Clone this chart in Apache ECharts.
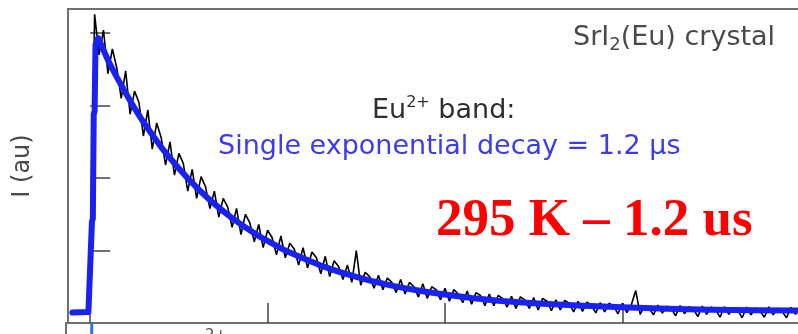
<!DOCTYPE html>
<html>
<head>
<meta charset="utf-8">
<script src="https://cdn.jsdelivr.net/npm/echarts@6/dist/echarts.min.js"></script>
<style>
  html, body { margin: 0; padding: 0; background: #ffffff; }
  #chart { width: 798px; height: 334px; }
</style>
</head>
<body>
<div id="chart"></div>
<script>
// Time axis in microseconds, intensity in arbitrary units
const timeTicks = [0, 2, 4, 6, 8];
const intensityTicks = [0.25, 0.5, 0.75, 1.0];

// Measured decay trace (sampled every 0.05 us starting at t = 0)
const traceStart = 0.0;
const traceStep = 0.05;
const traceIntensity = [
  0.040, 1.065, 0.925, 1.010, 0.860, 0.945, 0.880, 0.775, 0.870, 0.720,
  0.800, 0.760, 0.645, 0.735, 0.600, 0.690, 0.640, 0.545, 0.625, 0.510,
  0.585, 0.550, 0.455, 0.530, 0.430, 0.505, 0.470, 0.395, 0.455, 0.365,
  0.430, 0.400, 0.330, 0.395, 0.305, 0.375, 0.345, 0.280, 0.340, 0.260,
  0.320, 0.295, 0.235, 0.300, 0.225, 0.275, 0.255, 0.200, 0.260, 0.190,
  0.245, 0.225, 0.170, 0.230, 0.160, 0.215, 0.195, 0.150, 0.200, 0.140,
  0.250, 0.130, 0.175, 0.160, 0.120, 0.165, 0.115, 0.155, 0.140, 0.105,
  0.150, 0.100, 0.140, 0.125, 0.090, 0.135, 0.085, 0.125, 0.115, 0.080,
  0.120, 0.075, 0.115, 0.100, 0.070, 0.110, 0.065, 0.105, 0.095, 0.060,
  0.100, 0.060, 0.095, 0.085, 0.055, 0.092, 0.050, 0.090, 0.080, 0.050,
  0.088, 0.045, 0.085, 0.075, 0.042, 0.080, 0.045, 0.078, 0.068, 0.038,
  0.075, 0.040, 0.072, 0.062, 0.035, 0.070, 0.038, 0.068, 0.058, 0.032,
  0.068, 0.036, 0.062, 0.112, 0.030, 0.060, 0.052, 0.028, 0.062, 0.034,
  0.058, 0.050, 0.025, 0.060, 0.032, 0.056, 0.048, 0.022, 0.058, 0.030,
  0.055, 0.046, 0.020, 0.056, 0.030, 0.052, 0.044, 0.018, 0.055, 0.028,
  0.052, 0.042, 0.020, 0.056, 0.028, 0.050, 0.040, 0.018, 0.054, 0.030,
  0.050, 0.038, 0.020, 0.052, 0.030, 0.046
];

// Single exponential fit (tau = 1.2 us)
const fitTime = [
  -0.20, -0.02, 0.00, 0.02, 0.03, 0.04, 0.05, 0.06, 0.09, 0.2,
  0.3, 0.4, 0.5, 0.6, 0.7, 0.8, 0.9, 1.0, 1.1, 1.2,
  1.3, 1.4, 1.5, 1.6, 1.7, 1.8, 1.9, 2.0, 2.2, 2.4,
  2.6, 2.8, 3.0, 3.2, 3.4, 3.6, 3.8, 4.0, 4.3, 4.6,
  5.0, 5.5, 6.0, 6.5, 7.0, 7.5, 8.0, 8.25
];
const fitIntensity = [
  0.036, 0.038, 0.040, 0.35, 0.36, 0.72, 0.73, 0.96, 0.983, 0.907,
  0.848, 0.793, 0.741, 0.693, 0.649, 0.607, 0.569, 0.533, 0.499, 0.468,
  0.438, 0.411, 0.386, 0.362, 0.340, 0.320, 0.300, 0.283, 0.250, 0.223,
  0.198, 0.177, 0.159, 0.143, 0.129, 0.117, 0.107, 0.098, 0.086, 0.077,
  0.068, 0.060, 0.054, 0.049, 0.046, 0.044, 0.043, 0.042
];

// Rising edge of the panel below (only its top is in view)
const lowerEdgeTime = [0.04, 0.04];
const lowerEdgeIntensity = [0.55, 1.0];

const tracePoints = traceIntensity.map((v, i) => [traceStart + i * traceStep, v]);
const fitPoints = fitTime.map((t, i) => [t, fitIntensity[i]]);
const lowerPoints = lowerEdgeTime.map((t, i) => [t, lowerEdgeIntensity[i]]);

const frameColor = '#707070';
const tickStyle = { color: '#444444', width: 1.5 };

const chart = echarts.init(document.getElementById('chart'), null, { renderer: 'canvas' });

chart.setOption({
  animation: false,
  backgroundColor: '#ffffff',
  grid: [
    { left: 68, top: 9, width: 754, height: 314, show: true, outerBoundsMode: 'none',
      borderColor: frameColor, borderWidth: 2, backgroundColor: 'transparent' },
    { left: 66, top: 323, width: 754, height: 300, show: true, outerBoundsMode: 'none',
      borderColor: frameColor, borderWidth: 2, backgroundColor: 'transparent' }
  ],
  xAxis: [
    { gridIndex: 0, type: 'value', min: -0.25, max: 8.25,
      axisLine: { show: false }, splitLine: { show: false }, axisLabel: { show: false },
      axisTick: { show: true, inside: true, length: 20, customValues: timeTicks, lineStyle: tickStyle } },
    { gridIndex: 1, type: 'value', min: -0.25, max: 8.25, show: false }
  ],
  yAxis: [
    { gridIndex: 0, type: 'value', min: 0, max: 1.083,
      axisLine: { show: false }, splitLine: { show: false }, axisLabel: { show: false },
      axisTick: { show: true, inside: true, length: 20, customValues: intensityTicks, lineStyle: tickStyle } },
    { gridIndex: 1, type: 'value', min: 0, max: 1, show: false }
  ],
  series: [
    { type: 'line', xAxisIndex: 0, yAxisIndex: 0, data: tracePoints,
      showSymbol: false, lineStyle: { color: '#000000', width: 1.6 }, z: 2 },
    { type: 'line', xAxisIndex: 0, yAxisIndex: 0, data: fitPoints,
      showSymbol: false, lineStyle: { color: '#1a22f2', width: 6, join: 'round', cap: 'round' }, z: 3 },
    { type: 'line', xAxisIndex: 1, yAxisIndex: 1, data: lowerPoints,
      showSymbol: false, lineStyle: { color: '#2f72f0', width: 3 }, z: 3 }
  ],
  graphic: [
    { type: 'text', x: 23, y: 166, rotation: Math.PI / 2,
      style: { text: 'I (au)', fill: '#4a4a4a', font: '24px "DejaVu Sans"',
               textAlign: 'center', textVerticalAlign: 'middle' } },
    { type: 'text', x: 573, y: 38,
      style: { text: '{m|SrI}{s|2}{m|(Eu) crystal}', textAlign: 'left', textVerticalAlign: 'middle',
               rich: {
                 m: { fontFamily: 'DejaVu Sans', fontSize: 27, lineHeight: 32, fill: '#4a4a4a' },
                 s: { fontFamily: 'DejaVu Sans', fontSize: 18, lineHeight: 18, verticalAlign: 'bottom', fill: '#4a4a4a' }
               } } },
    { type: 'text', x: 372, y: 111,
      style: { text: '{m|Eu}{p|2+}{m| band:}', textAlign: 'left', textVerticalAlign: 'middle',
               rich: {
                 m: { fontFamily: 'DejaVu Sans', fontSize: 27, lineHeight: 33, fill: '#2e2e2e' },
                 p: { fontFamily: 'DejaVu Sans', fontSize: 16, lineHeight: 16, verticalAlign: 'top', fill: '#2e2e2e' }
               } } },
    { type: 'text', x: 218, y: 147,
      style: { text: 'Single exponential decay = 1.2 \u00b5s', fill: '#3b3bf2',
               font: '27px "DejaVu Sans"', textAlign: 'left', textVerticalAlign: 'middle' } },
    { type: 'text', x: 436, y: 221,
      style: { text: '295 K \u2013 1.2 us', fill: '#ff0000',
               font: 'bold 53px "Liberation Serif"', textAlign: 'left', textVerticalAlign: 'middle' } },
    { type: 'text', x: 205, y: 336,
      style: { text: '2+', fill: '#555555', font: '15px "DejaVu Sans"',
               textAlign: 'left', textVerticalAlign: 'middle' } }
  ]
});
</script>
</body>
</html>
